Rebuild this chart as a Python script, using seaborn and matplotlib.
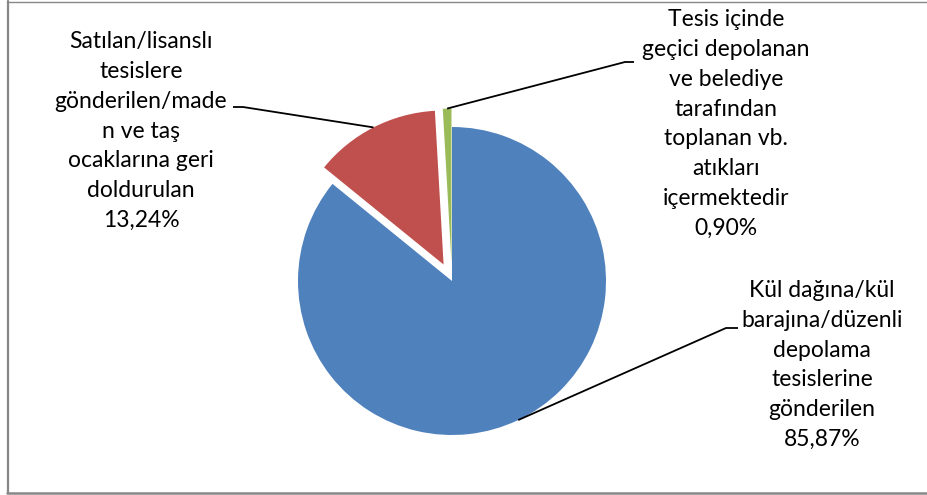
import matplotlib
matplotlib.use("Agg")
import matplotlib.pyplot as plt
import seaborn as sns
import numpy as np
from matplotlib.lines import Line2D

# Disposal routes of ash / slag and their shares (%)
categories = [
    "Kül dağına/kül\nbarajına/düzenli\ndepolama\ntesislerine\ngönderilen",
    "Satılan/lisanslı\ntesislere\ngönderilen/made\nn ve taş\nocaklarına geri\ndoldurulan",
    "Tesis içinde\ngeçici depolanan\nve belediye\ntarafından\ntoplanan vb.\natıkları\niçermektedir",
]
shares = [85.87, 13.24, 0.90]
colors = ["#4F81BD", "#C0504D", "#9BBB59"]
explode = [0.0, 0.12, 0.12]

sns.set_theme(style="white")
plt.rcParams["font.family"] = ["Lato", "DejaVu Sans"]

W, H = 927, 495
fig = plt.figure(figsize=(W / 100, H / 100), dpi=100)
ax = fig.add_axes([0, 0, 1, 1])

pie_center = (452, H - 281)
pie_radius = 154
wedges, _ = ax.pie(
    shares,
    colors=colors,
    explode=[e * pie_radius for e in explode],
    startangle=90,
    counterclock=False,
    radius=pie_radius,
    center=pie_center,
    wedgeprops=dict(linewidth=0),
)
ax.set_xlim(0, W)
ax.set_ylim(0, H)
ax.set_aspect("equal")
ax.axis("off")

# label boxes (centre of text block) and leader-line elbows, in pixels from top-left
label_pos = [(822, 365), (141, 131), (726, 124)]
elbows = [((726, 328), (738, 328)), ((243, 107), (233, 107)), ((625, 62), (634, 62))]

for wedge, name, val, (lx, ly), (e1, e2) in zip(wedges, categories, shares, label_pos, elbows):
    pct = f"{val:.2f}".replace(".", ",")
    txt = f"{name}\n{pct}%"
    ax.text(lx, H - ly, txt, ha="center", va="center", multialignment="center",
            fontsize=16.5, color="#000000", linespacing=1.52)
    mid = np.deg2rad((wedge.theta1 + wedge.theta2) / 2)
    cx, cy = wedge.center
    px = cx + wedge.r * np.cos(mid)
    py = cy + wedge.r * np.sin(mid)
    ax.plot([px, e1[0], e2[0]], [py, H - e1[1], H - e2[1]], color="black", lw=1.3,
            solid_capstyle="butt")

# chart-area frame
frame_color = "#878787"
fig.add_artist(Line2D([8 / W, 8 / W], [1 - 1 / H, 1 - 493 / H], transform=fig.transFigure,
                      color=frame_color, lw=1.6))
fig.add_artist(Line2D([7 / W, 1], [1 - 1.5 / H, 1 - 1.5 / H], transform=fig.transFigure,
                      color=frame_color, lw=1.0))
fig.add_artist(Line2D([7 / W, 1], [1 - 493 / H, 1 - 493 / H], transform=fig.transFigure,
                      color=frame_color, lw=1.8))

fig.savefig("out.png", dpi=100, facecolor="white")
